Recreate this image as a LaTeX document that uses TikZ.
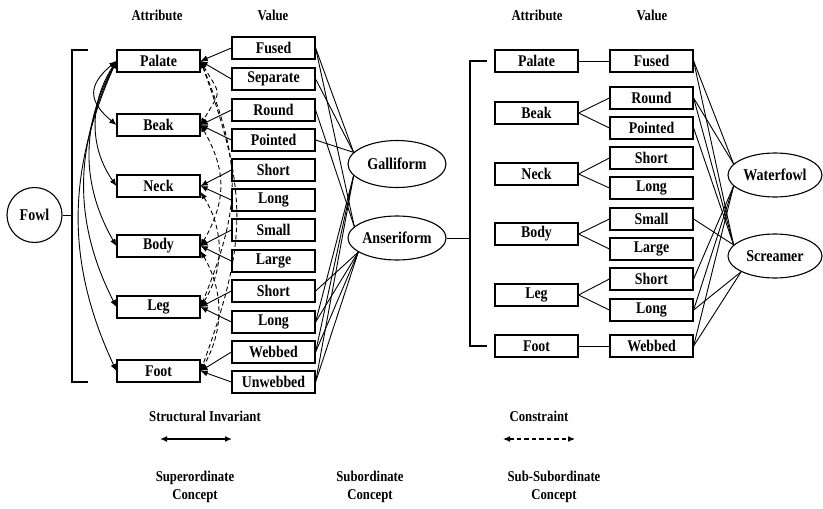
\documentclass[tikz,border=0pt]{standalone}
\usepackage{fontspec}
\setmainfont{Liberation Serif}[FakeStretch=0.85]
\usetikzlibrary{shapes.geometric,arrows.meta}
\begin{document}
\begin{tikzpicture}[x=1pt,y=1pt,
  box/.style={draw, line width=1.2pt, minimum width=83pt, minimum height=22pt, inner sep=0pt, font=\fontsize{16.3}{17}\selectfont\bfseries},
  ell/.style={draw, ellipse, line width=1.1pt, inner sep=0pt, font=\fontsize{16.5}{17}\selectfont\bfseries},
  lbl/.style={font=\fontsize{15}{17.5}\selectfont\bfseries, align=center},
  con/.style={line width=0.9pt},
  tip/.style={-{Latex[length=7pt,width=6pt]}},
  dtip/.style={{Latex[length=7pt,width=6pt]}-{Latex[length=7pt,width=6pt]}},
  dsh/.style={dash pattern=on 4.5pt off 3pt}
]
\fill[white] (0,0) rectangle (823,-509);
\useasboundingbox (0,0) rectangle (823,-509);

% headers
\node[lbl] (h1) at (157,-15) {Attribute};
\node[lbl] (h2) at (273,-15) {Value};
\node[lbl] (h3) at (537,-15) {Attribute};
\node[lbl] (h4) at (652,-15) {Value};

% Fowl and bracket
\node[circle, draw, line width=1.1pt, minimum size=55pt, inner sep=0pt, font=\fontsize{16.5}{17}\selectfont\bfseries] (fowl) at (34.5,-215) {Fowl};
\coordinate (bt) at (88,-50);
\coordinate (btc) at (72,-50);
\coordinate (bbc) at (72,-382);
\coordinate (bb) at (88,-382);
\coordinate (bm) at (72,-215);
\draw[con, line width=1.1pt] (bt) -- (btc) -- (bbc) -- (bb);
\draw[con] (fowl.east) -- (bm);

% left attributes
\node[box] (pa) at (158.5,-61) {Palate};
\node[box] (be) at (158.5,-125) {Beak};
\node[box] (ne) at (158.5,-186) {Neck};
\node[box] (bo) at (158.5,-246) {Body};
\node[box] (le) at (158.5,-307) {Leg};
\node[box] (fo) at (158.5,-371) {Foot};

% left values
\node[box] (v1) at (273.5,-48) {Fused};
\node[box] (v2) at (273.5,-79) {Separate};
\node[box] (v3) at (273.5,-110) {Round};
\node[box] (v4) at (273.5,-140) {Pointed};
\node[box] (v5) at (273.5,-170) {Short};
\node[box] (v6) at (273.5,-200) {Long};
\node[box] (v7) at (273.5,-230) {Small};
\node[box] (v8) at (273.5,-261) {Large};
\node[box] (v9) at (273.5,-291) {Short};
\node[box] (v10) at (273.5,-322) {Long};
\node[box] (v11) at (273.5,-352) {Webbed};
\node[box] (v12) at (273.5,-382) {Unwebbed};

% value -> attribute arrows
\foreach \v/\a in {v1/pa,v2/pa,v3/be,v4/be,v5/ne,v6/ne,v7/bo,v8/bo,v9/le,v10/le,v11/fo,v12/fo}
  \draw[con,tip] (\v.west) -- (\a.east);

% structural invariants (solid, left)
\draw[con,dtip] (pa.west) to[out=220,in=140,looseness=1.5] (be.west);
\draw[con,dtip] (pa.west) to[out=237,in=125] (ne.west);
\draw[con,dtip] (pa.west) to[out=241,in=120] (bo.west);
\draw[con,dtip] (pa.west) to[out=244,in=117] (le.west);
\draw[con,dtip] (pa.west) to[out=246,in=115] (fo.west);

% constraints (dashed, right of attributes)
\draw[con,dsh,dtip] (pa.east) to[out=-60,in=60,looseness=1.7] (be.east);
\draw[con,dsh,dtip] (pa.east) to[out=-68,in=68,looseness=1.15] (le.east);
\draw[con,dsh,dtip] (pa.east) to[out=-70,in=70,looseness=1.15] (fo.east);
\draw[con,dsh,dtip] (be.east) to[out=-60,in=60,looseness=1.1] (bo.east);
\draw[con,dsh,dtip] ([yshift=-6pt]ne.east) to[out=-58,in=58] (le.east);
\draw[con,dsh,dtip] ([yshift=-5pt]bo.east) to[out=-60,in=60] (fo.east);

% subordinate concepts
\node[ell, minimum width=98pt, minimum height=47pt] (gal) at (397,-164) {Galliform};
\node[ell, minimum width=98pt, minimum height=44pt] (ans) at (397,-238) {Anseriform};

\foreach \v in {v1,v2,v4}
  \draw[con] (\v.east) -- (gal.165);
\foreach \v in {v10,v11,v12}
  \draw[con] (\v.east) -- (gal.195);
\foreach \v in {v1,v3}
  \draw[con] (\v.east) -- (ans.165);
\foreach \v in {v9,v10,v11,v12}
  \draw[con] (\v.east) -- (ans.200);

% right bracket
\coordinate (rt) at (487,-61);
\coordinate (rtc) at (470,-61);
\coordinate (rbc) at (470,-346);
\coordinate (rb) at (487,-346);
\coordinate (rm) at (470,-238);
\draw[con, line width=1.1pt] (rt) -- (rtc) -- (rbc) -- (rb);
\draw[con] (ans.east) -- (rm);

% right attributes
\node[box] (pa2) at (536.5,-61) {Palate};
\node[box] (be2) at (536.5,-113) {Beak};
\node[box] (ne2) at (536.5,-174) {Neck};
\node[box] (bo2) at (536.5,-234) {Body};
\node[box] (le2) at (536.5,-295) {Leg};
\node[box] (fo2) at (536.5,-346) {Foot};

% right values
\node[box] (w1) at (651.5,-61) {Fused};
\node[box] (w2) at (651.5,-98) {Round};
\node[box] (w3) at (651.5,-128) {Pointed};
\node[box] (w4) at (651.5,-158) {Short};
\node[box] (w5) at (651.5,-188) {Long};
\node[box] (w6) at (651.5,-219) {Small};
\node[box] (w7) at (651.5,-249) {Large};
\node[box] (w8) at (651.5,-279) {Short};
\node[box] (w9) at (651.5,-310) {Long};
\node[box] (w10) at (651.5,-346) {Webbed};

\foreach \a/\v in {pa2/w1,be2/w2,be2/w3,ne2/w4,ne2/w5,bo2/w6,bo2/w7,le2/w8,le2/w9,fo2/w10}
  \draw[con] (\a.east) -- (\v.west);

% sub-subordinate concepts
\node[ell, minimum width=94pt, minimum height=44pt] (wat) at (775,-175) {Waterfowl};
\node[ell, minimum width=94pt, minimum height=44pt] (scr) at (775,-256) {Screamer};

\foreach \v in {w1,w2}
  \draw[con] (\v.east) -- (wat.165);
\foreach \v in {w8,w9,w10}
  \draw[con] (\v.east) -- (wat.195);
\foreach \v in {w1,w2,w3,w6}
  \draw[con] (\v.east) -- (scr.165);
\foreach \v in {w9,w10}
  \draw[con] (\v.east) -- (scr.205);

% legend
\node[lbl] (si) at (205,-416) {Structural Invariant};
\coordinate (sa) at (160,-439);
\coordinate (sb) at (232,-439);
\draw[line width=1.5pt,dtip] (sa) -- (sb);
\node[lbl] (cs) at (539,-416) {Constraint};
\coordinate (ca) at (503,-439);
\coordinate (cb) at (575,-439);
\draw[line width=1.2pt,dsh,dtip] (ca) -- (cb);

\node[lbl] (c1) at (195,-487) {Superordinate\\Concept};
\node[lbl] (c2) at (370,-487) {Subordinate\\Concept};
\node[lbl] (c3) at (554,-487) {Sub-Subordinate\\Concept};
\end{tikzpicture}
\end{document}
